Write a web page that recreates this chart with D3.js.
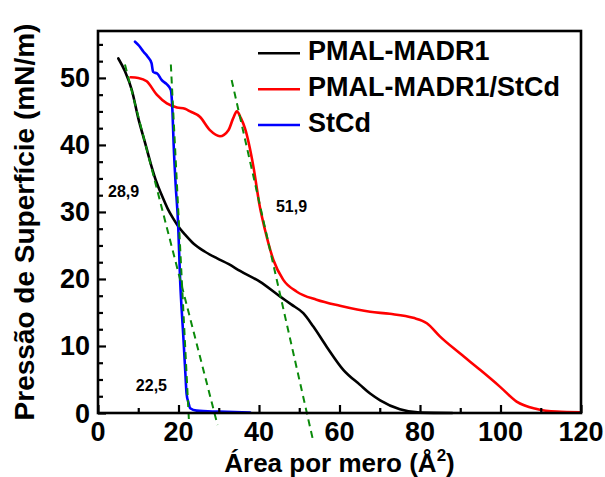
<!DOCTYPE html>
<html><head><meta charset="utf-8">
<script src="https://cdn.jsdelivr.net/npm/d3@7"></script>
<style>
html,body{margin:0;padding:0;background:#fff;}
text{font-family:"Liberation Sans",Arial,Helvetica,sans-serif;font-weight:bold;}
</style></head>
<body>
<svg id="chart" width="605" height="477"></svg>
<script>
// ---- data ----
const blackX = [5.05, 6.7, 8.4, 10, 11.7, 13.2, 14.5, 15.9, 17.3, 18.7, 20, 21.8, 23.7, 26.5, 29.5, 32.5, 35.3, 40.2, 45.2, 48, 51, 53.5, 56.8, 61, 65.1, 67.6, 70.1, 75, 80, 88];
const blackY = [52.9, 51, 48.2, 44, 40.3, 37, 34.5, 32.4, 30.5, 29.0, 27.8, 26.5, 25.3, 24.1, 23.1, 22.2, 21.2, 19.6, 17.4, 16.2, 14.9, 12.9, 9.9, 6.4, 4.2, 2.9, 1.9, 0.55, 0.05, 0.0];
const redX = [8.1, 10, 12.1, 14.6, 17.1, 19.6, 21.6, 22.9, 25.3, 27.8, 30.3, 32.4, 33.6, 34.5, 35.5, 36.5, 38.6, 40.2, 41.5, 43.6, 46, 49.4, 54.3, 60.1, 67.6, 72.5, 78.3, 81.7, 85, 89.9, 95, 99.9, 104, 109, 114, 119.8];
const redY = [50.1, 50, 49.5, 47.5, 46.2, 45.6, 45.4, 45, 44.2, 42.2, 41.3, 42.2, 44, 45, 44, 42.5, 36.8, 30.8, 27.3, 22.8, 19.9, 18.1, 16.9, 16, 15.1, 14.8, 14.2, 13.4, 11.4, 8.9, 6.4, 3.9, 1.7, 0.6, 0.2, 0.1];
const blueX = [9.2, 10.2, 11.3, 12.3, 13.3, 13.7, 14.8, 15.8, 17.0, 18.1, 18.5, 18.8, 19.3, 19.9, 20.4, 21.2, 21.7, 22.0, 22.5, 22.9, 24.5, 30, 37.8];
const blueY = [55.4, 54.8, 53.9, 53.2, 52.2, 50.9, 50.6, 49.7, 49.1, 48.2, 45, 40, 34, 28.3, 19.9, 11.4, 6, 2.9, 1.5, 0.7, 0.35, 0.2, 0.05];
const seriesNames = ["PMAL-MADR1", "PMAL-MADR1/StCd", "StCd"];
// tangent lines (data coords): start point and end point
const tangentX1 = [6.7, 18.1, 33.2];
const tangentY1 = [52, 52, 49.7];
const tangentX2 = [29.7, 22.65, 53.4];
const tangentY2 = [-1.8, -1.8, -4];
const tangentLabels = ["28,9", "22,5", "51,9"];
const tangentLabelX = [2.5, 9.4, 44.2];
const tangentLabelY = [32.2, 3.3, 30];
const xTicks = [0, 20, 40, 60, 80, 100, 120];
const yTicks = [0, 10, 20, 30, 40, 50];
const xTitle = "Área por mero (Å";
const yTitle = "Pressão de Superfície (mN/m)";

// ---- layout ----
const svg = d3.select("#chart");
const L = 98, R = 581, T = 31, B = 413;
const x = d3.scaleLinear().domain([0, 120]).range([L, R]);
const y = d3.scaleLinear().domain([0, 57]).range([B, T]);
const colors = ["#000000", "#ff0000", "#0000ff"];

// curves
const series = [
  d3.zip(blackX, blackY),
  d3.zip(redX, redY),
  d3.zip(blueX, blueY)
];
const line = d3.line().x(d => x(d[0])).y(d => y(d[1])).curve(d3.curveMonotoneX);
series.forEach((s, i) => {
  svg.append("path").datum(s).attr("d", line)
    .attr("fill", "none").attr("stroke", colors[i]).attr("stroke-width", 2.6)
    .attr("stroke-linejoin", "round").attr("stroke-linecap", "round");
});

// tangent dashed lines
tangentX1.forEach((_, i) => {
  svg.append("line")
    .attr("x1", x(tangentX1[i])).attr("y1", y(tangentY1[i]))
    .attr("x2", x(tangentX2[i])).attr("y2", y(tangentY2[i]))
    .attr("stroke", "#0a8a0a").attr("stroke-width", 2)
    .attr("stroke-dasharray", "7,5");
  svg.append("text").attr("x", x(tangentLabelX[i])).attr("y", y(tangentLabelY[i]))
    .attr("font-size", 16).attr("fill", "#000").text(tangentLabels[i]);
});

// axes
const xAxisMajor = d3.axisBottom(x).tickValues(xTicks).tickSize(-8).tickFormat("");
const xAxisMinor = d3.axisBottom(x).tickValues(d3.range(10, 120, 20)).tickSize(-5).tickFormat("");
const yAxisMajor = d3.axisLeft(y).tickValues(yTicks).tickSize(-8).tickFormat("");
const yAxisMinor = d3.axisLeft(y).tickValues(d3.range(2.5, 57, 2.5).filter(v => v % 10 !== 0)).tickSize(-5).tickFormat("");
[xAxisMajor, xAxisMinor].forEach(a => {
  const g = svg.append("g").attr("transform", `translate(0,${B})`).call(a);
  g.select(".domain").remove();
  g.selectAll("line").attr("stroke", "#000").attr("stroke-width", 2.2);
});
[yAxisMajor, yAxisMinor].forEach(a => {
  const g = svg.append("g").attr("transform", `translate(${L},0)`).call(a);
  g.select(".domain").remove();
  g.selectAll("line").attr("stroke", "#000").attr("stroke-width", 2.2);
});
svg.append("rect").attr("x", L).attr("y", T).attr("width", R - L).attr("height", B - T)
  .attr("fill", "none").attr("stroke", "#000").attr("stroke-width", 2.6);

// tick labels
svg.append("g").selectAll("text").data(xTicks).join("text")
  .attr("x", d => x(d)).attr("y", 441).attr("text-anchor", "middle")
  .attr("font-size", 27).text(d => d);
svg.append("g").selectAll("text").data(yTicks).join("text")
  .attr("x", 90).attr("y", d => y(d) + 9.5).attr("text-anchor", "end")
  .attr("font-size", 27).text(d => d);

// axis titles
const xt = svg.append("text").attr("x", (L + R) / 2).attr("y", 472)
  .attr("text-anchor", "middle").attr("font-size", 26);
xt.append("tspan").text(xTitle);
xt.append("tspan").attr("font-size", 17).attr("dy", -11).text("2");
xt.append("tspan").attr("dy", 11).text(")");
svg.append("text").attr("transform", `translate(34,${(T + B) / 2}) rotate(-90)`)
  .attr("text-anchor", "middle").attr("font-size", 28).text(yTitle);

// legend
const legY = [53.3, 89.3, 125];
seriesNames.forEach((n, i) => {
  svg.append("line").attr("x1", 258).attr("x2", 300).attr("y1", legY[i]).attr("y2", legY[i])
    .attr("stroke", colors[i]).attr("stroke-width", 2.6);
  svg.append("text").attr("x", 308).attr("y", legY[i] + 6.5).attr("font-size", 27).text(n);
});
</script>
</body></html>
